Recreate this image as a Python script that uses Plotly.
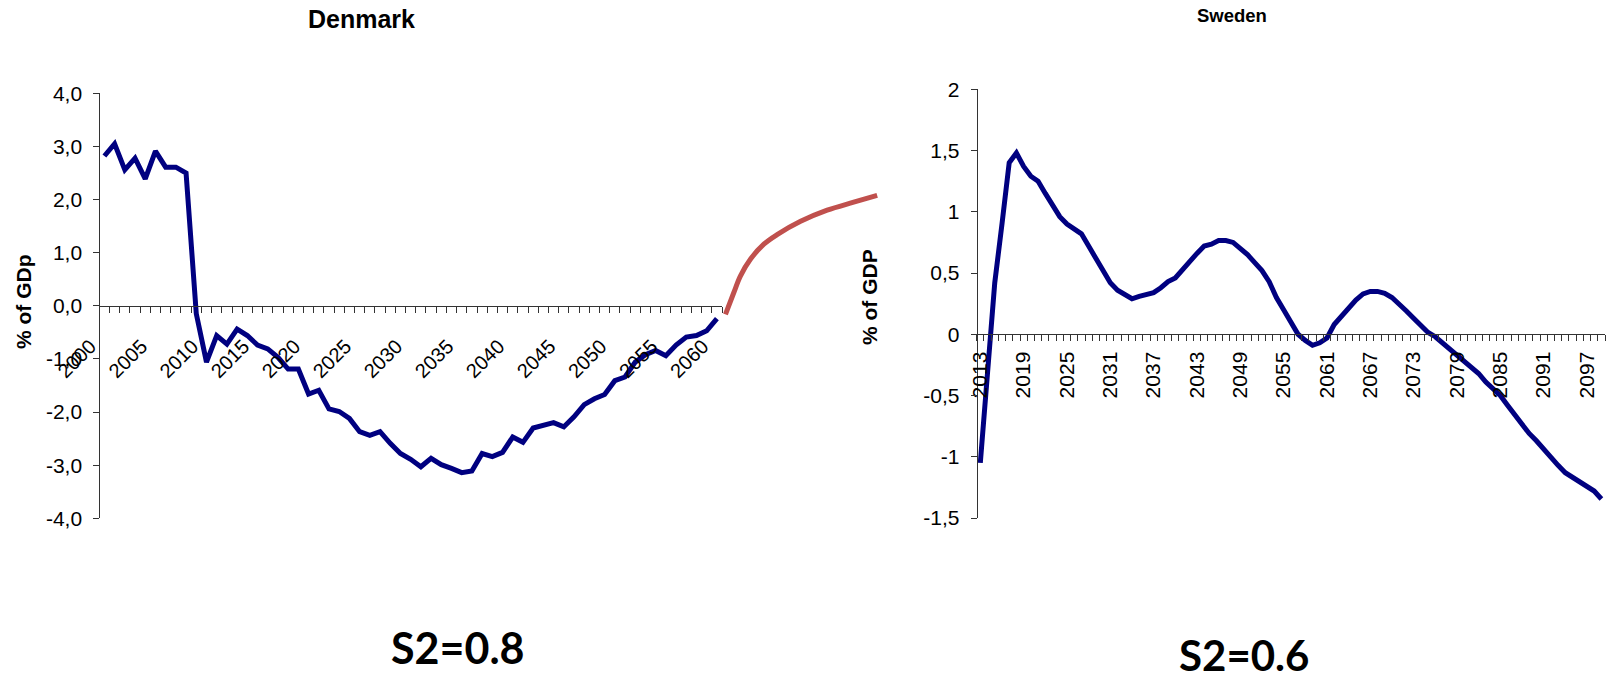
import plotly.graph_objects as go

W, H = 1607, 682

# ---------------- data ----------------
dk_years = list(range(2000, 2061))
dk_values = [2.82, 3.05, 2.56, 2.78, 2.39, 2.91, 2.61, 2.61, 2.50, -0.15,
             -1.06, -0.56, -0.72, -0.44, -0.56, -0.74, -0.81, -0.97, -1.19, -1.19,
             -1.66, -1.59, -1.94, -1.99, -2.12, -2.37, -2.44, -2.37, -2.59, -2.78,
             -2.89, -3.03, -2.87, -2.99, -3.06, -3.14, -3.11, -2.78, -2.84, -2.76,
             -2.47, -2.57, -2.30, -2.26, -2.20, -2.28, -2.09, -1.86, -1.75, -1.67,
             -1.41, -1.34, -1.06, -0.92, -0.84, -0.94, -0.74, -0.59, -0.56, -0.47,
             -0.24]
dk_proj_years = [2060.84, 2061.66, 2062.3, 2063.3, 2064.6, 2065.9, 2068.2, 2070.8, 2073.4, 2075.7]
dk_proj_values = [-0.16, 0.25, 0.56, 0.88, 1.16, 1.34, 1.59, 1.80, 1.95, 2.08]

se_years = list(range(2013, 2100))
se_values = [-1.05, -0.30, 0.42, 0.90, 1.40, 1.48, 1.37, 1.29, 1.25, 1.15,
             1.06, 0.96, 0.90, 0.86, 0.82, 0.72, 0.62, 0.50, 0.42, 0.36,
             0.32, 0.29, 0.31, 0.33, 0.34, 0.38, 0.43, 0.46, 0.53, 0.59,
             0.66, 0.72, 0.735, 0.765, 0.765, 0.75, 0.70, 0.65, 0.585, 0.52,
             0.43, 0.30, 0.20, 0.10, 0.00, -0.05, -0.09, -0.07, -0.03, 0.08,
             0.145, 0.22, 0.28, 0.33, 0.35, 0.35, 0.335, 0.30, 0.25, 0.19,
             0.13, 0.07, 0.015, -0.02, -0.07, -0.13, -0.18, -0.23, -0.28, -0.32,
             -0.39, -0.44, -0.50, -0.58, -0.66, -0.74, -0.81, -0.87, -0.94, -1.01,
             -1.07, -1.13, -1.17, -1.20, -1.24, -1.28, -1.345]

dk_yticks = [-4, -3, -2, -1, 0, 1, 2, 3, 4]
dk_yticktext = ["-4,0", "-3,0", "-2,0", "-1,0", "0,0", "1,0", "2,0", "3,0", "4,0"]
se_yticks = [-1.5, -1, -0.5, 0, 0.5, 1, 1.5, 2]
se_yticktext = ["-1,5", "-1", "-0,5", "0", "0,5", "1", "1,5", "2"]
dk_xticks = list(range(2000, 2061, 5))
se_xticks = list(range(2013, 2100, 6))

# ---------------- layout helpers ----------------
def fx(px):
    return px / W

def fy(py):
    return 1 - py / H

BLUE = "#000080"
RED = "#C0504D"
AXC = "#333333"
TICKFONT = "Arial, Liberation Sans, sans-serif"

dk_xdom = [fx(99.3), fx(722)]
dk_ydom = [fy(518.3), fy(93.3)]
dk_yrange = [-4, 4]
dk_xrange = [dk_years[0] - 0.5, dk_years[-1] + 0.5]
dk_zero = dk_ydom[0] + (0 - dk_yrange[0]) / (dk_yrange[1] - dk_yrange[0]) * (dk_ydom[1] - dk_ydom[0])
px_per_year = (722 - 99.3) / (dk_xrange[1] - dk_xrange[0])
proj_px = 158
dk_pdom = [fx(722), fx(722 + proj_px)]
dk_prange = [dk_xrange[1], dk_xrange[1] + proj_px / px_per_year]

se_xdom = [fx(976.7), fx(1605)]
se_ydom = [fy(518.0), fy(89.3)]
se_yrange = [-1.5, 2]
se_xrange = [se_years[0] - 0.5, se_years[-1] + 0.5]
se_zero = se_ydom[0] + (0 - se_yrange[0]) / (se_yrange[1] - se_yrange[0]) * (se_ydom[1] - se_ydom[0])

dk_bounds = [y - 0.5 for y in dk_years] + [dk_years[-1] + 0.5]
se_bounds = [y - 0.5 for y in se_years] + [se_years[-1] + 0.5]

fig = go.Figure()
fig.add_trace(go.Scatter(x=dk_years, y=dk_values, mode="lines",
                         line=dict(color=BLUE, width=5), xaxis="x", yaxis="y",
                         showlegend=False, hoverinfo="skip"))
fig.add_trace(go.Scatter(x=dk_proj_years, y=dk_proj_values, mode="lines",
                         line=dict(color=RED, width=5, shape="spline"), xaxis="x3", yaxis="y",
                         showlegend=False, hoverinfo="skip"))
fig.add_trace(go.Scatter(x=se_years, y=se_values, mode="lines",
                         line=dict(color=BLUE, width=5), xaxis="x2", yaxis="y2",
                         showlegend=False, hoverinfo="skip"))

common_x = dict(showgrid=False, zeroline=False, showline=True, linecolor=AXC, linewidth=1,
                automargin=False,
                ticks="", tickfont=dict(family=TICKFONT, size=20, color="#000"))
common_y = dict(showgrid=False, zeroline=False, showline=True, linecolor=AXC, linewidth=1,
                automargin=False, ticklabelstandoff=7,
                ticks="outside", ticklen=6, tickcolor=AXC,
                tickfont=dict(family=TICKFONT, size=21, color="#000"))

fig.update_layout(
    width=W, height=H,
    margin=dict(l=0, r=0, t=0, b=0, pad=0, autoexpand=False),
    paper_bgcolor="white", plot_bgcolor="rgba(0,0,0,0)",
    xaxis=dict(common_x, domain=dk_xdom, range=dk_xrange, anchor="free", position=dk_zero,
               tickmode="array", tickvals=dk_xticks, ticktext=[str(v) for v in dk_xticks],
               tickangle=-45, ticklabelstandoff=20, ticklabelshift=-14,
               minor=dict(tickmode="array", tickvals=dk_bounds, ticks="outside",
                          ticklen=6, tickcolor=AXC, showgrid=False)),
    yaxis=dict(common_y, domain=dk_ydom, range=dk_yrange, anchor="free", position=dk_xdom[0],
               tickmode="array", tickvals=dk_yticks, ticktext=dk_yticktext),
    xaxis3=dict(domain=dk_pdom, range=dk_prange, anchor="y", visible=False, automargin=False),
    xaxis2=dict(common_x, domain=se_xdom, range=se_xrange, anchor="free", position=se_zero,
                tickmode="array", tickvals=se_xticks, ticktext=[str(v) for v in se_xticks],
                tickangle=-90, ticklabelstandoff=8,
                tickfont=dict(family=TICKFONT, size=21, color="#000"),
                minor=dict(tickmode="array", tickvals=se_bounds, ticks="outside",
                           ticklen=6, tickcolor=AXC, showgrid=False)),
    yaxis2=dict(common_y, domain=se_ydom, range=se_yrange, anchor="free", position=se_xdom[0],
                tickmode="array", tickvals=se_yticks, ticktext=se_yticktext),
)

ann = [
    dict(text="Denmark", x=fx(361), y=fy(19.5), font=dict(family=TICKFONT, size=25, color="#000", weight=700)),
    dict(text="Sweden", x=fx(1232), y=fy(15.5), font=dict(family=TICKFONT, size=18.5, color="#000", weight=700)),
    dict(text="% of GDp", x=fx(23), y=fy(302), textangle=-90,
         font=dict(family=TICKFONT, size=21, color="#000", weight=700)),
    dict(text="% of GDP", x=fx(869), y=fy(297), textangle=-90,
         font=dict(family=TICKFONT, size=21, color="#000", weight=700)),
    dict(text="S2=0.8", x=fx(458), y=fy(647), font=dict(family="Lato, sans-serif", size=43, color="#000", weight=700)),
    dict(text="S2=0.6", x=fx(1244), y=fy(655), font=dict(family="Lato, sans-serif", size=42, color="#000", weight=700)),
]
for a in ann:
    a.update(xref="paper", yref="paper", showarrow=False, xanchor="center", yanchor="middle")
fig.update_layout(annotations=ann)

fig.write_html("out.html", config={"displayModeBar": False},
               post_script="document.body.style.margin='0px';document.body.style.padding='0px';")
